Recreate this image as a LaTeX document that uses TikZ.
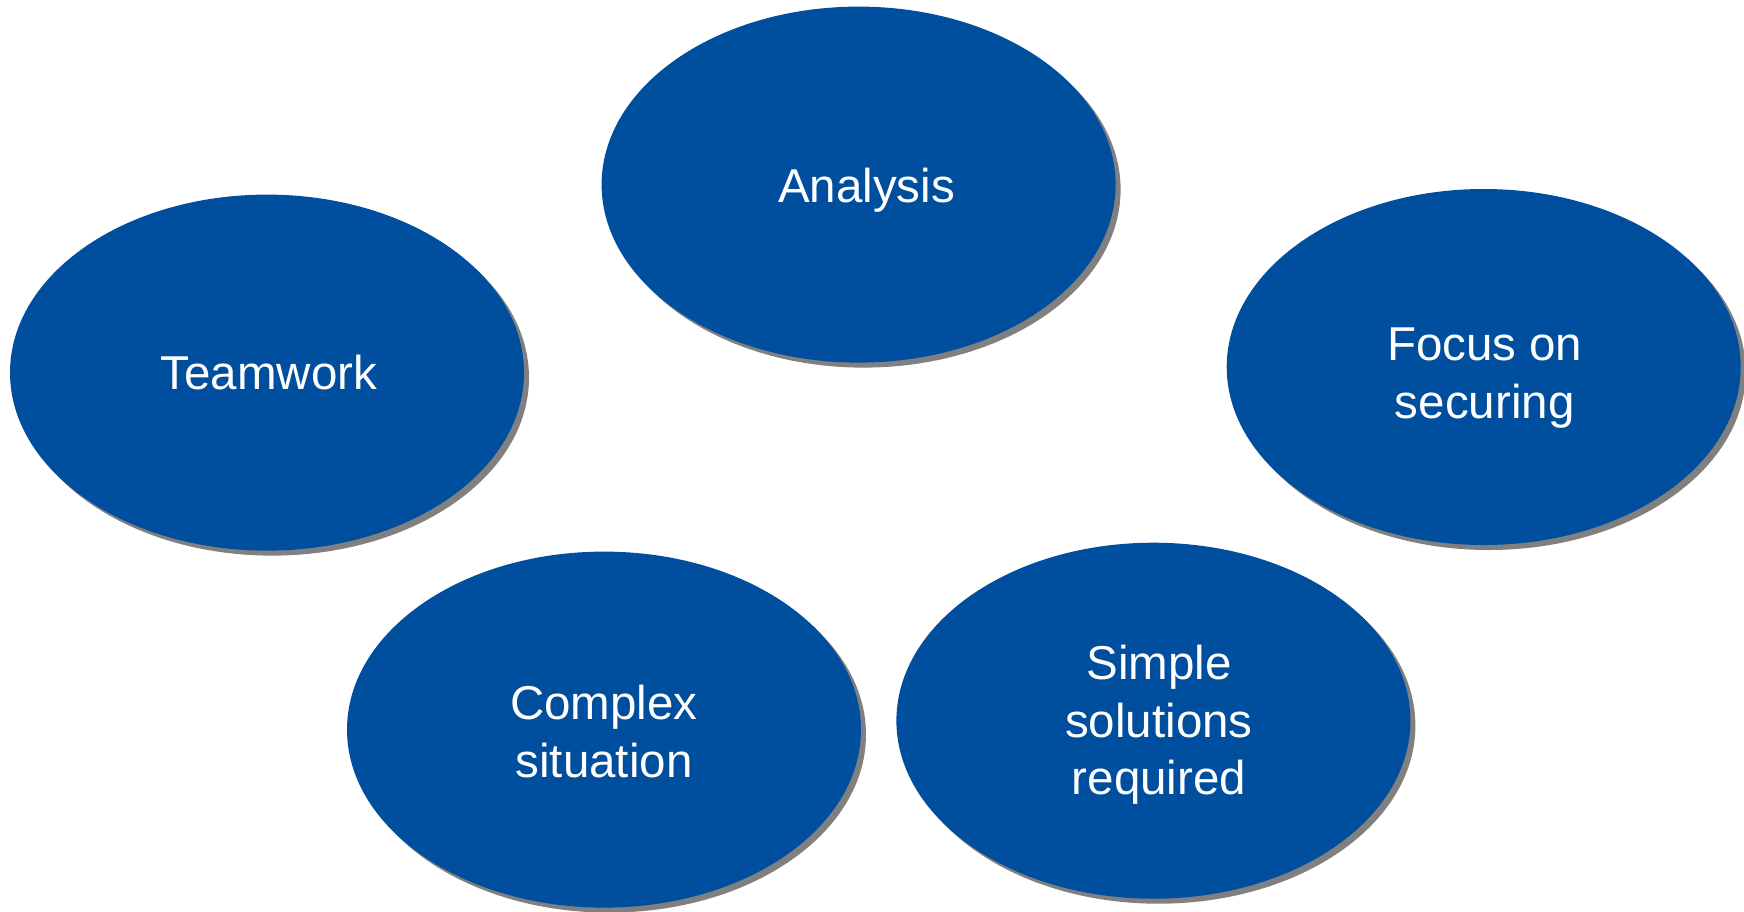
\documentclass[tikz,border=0pt]{standalone}
\usepackage{fontspec}
\setmainfont{Liberation Sans}
\usetikzlibrary{shapes.geometric,shadows}
\definecolor{bubble}{RGB}{0,78,158}
\definecolor{shade}{RGB}{128,128,128}
\tikzset{
  bubble/.style={ellipse, fill=bubble, draw=none, inner sep=0pt,
    minimum width=514pt, minimum height=356pt, text=white, align=center,
    font=\fontsize{47.5}{57.5}\selectfont,
    copy shadow={shadow xshift=5pt, shadow yshift=-5pt, fill=shade, draw=none}},
  label/.style={text=white, align=center, inner sep=0pt,
    font=\fontsize{47.5}{57.5}\selectfont}
}
\begin{document}
\begin{tikzpicture}[x=1pt,y=-1pt]
\useasboundingbox (0,0) rectangle (1744,911);
\node[bubble] (analysis) at (858.6,184.6) {};
\node[bubble] (teamwork) at (267,372.6) {};
\node[bubble] (focus) at (1483.7,367) {};
\node[bubble] (complex) at (604,729.6) {};
\node[bubble] (simple) at (1153.4,720.7) {};
\node[label] (analysistext) at ([xshift=8pt,yshift=-5.5pt]analysis.center) {Analysis};
\node[label] (teamworktext) at ([xshift=2pt]teamwork.center) {Teamwork};
\node[label] (focustext) at ([xshift=1pt,yshift=-11pt]focus.center) {Focus on\\securing};
\node[label] (complextext) at ([yshift=-2pt]complex.center) {Complex\\situation};
\node[label] (simpletext) at ([xshift=5.5pt,yshift=-4.5pt]simple.center) {Simple\\solutions\\required};
\end{tikzpicture}
\end{document}
